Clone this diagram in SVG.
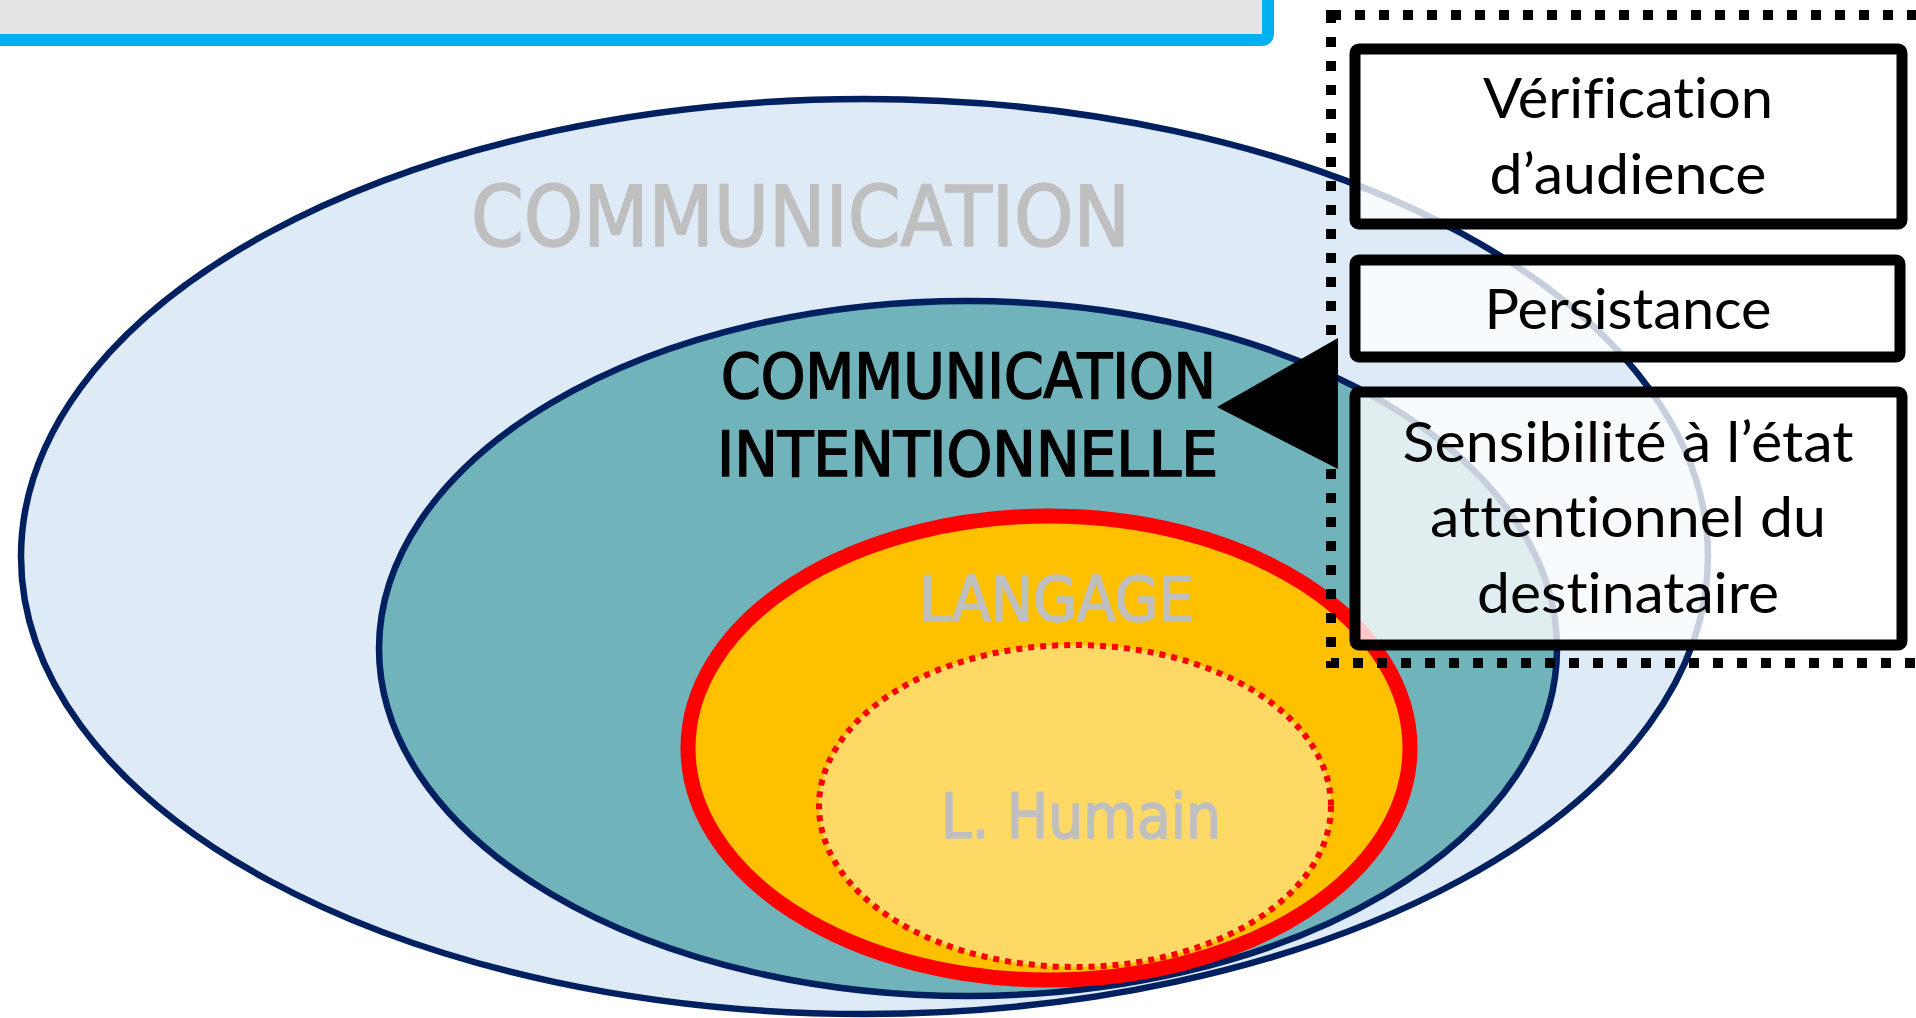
<svg xmlns="http://www.w3.org/2000/svg" width="1916" height="1018" viewBox="0 0 1916 1018">
<style>
.din{font-family:"DejaVu Sans Condensed","DejaVu Sans",sans-serif;font-stretch:condensed;stroke-width:1.6;}
.gray{fill:#bfbfbf;stroke:#bfbfbf;}
.blk{fill:#000000;stroke:#000000;}
.box{fill:#ffffff;fill-opacity:0.78;stroke:#000000;stroke-width:11;}
.bt{font-family:Lato,"Open Sans",sans-serif;font-size:57px;fill:#000000;text-anchor:middle;font-variant-ligatures:none;font-feature-settings:"liga" 0,"dlig" 0;}
.navy{stroke:#002060;stroke-width:6.5;}
</style>
<rect width="1916" height="1018" fill="#ffffff"/>
<g id="banner">
<rect x="-20" y="-20" width="1288" height="60" rx="6" fill="#e4e4e4" stroke="#00b0f0" stroke-width="12"/>
</g>
<g id="communication">
<ellipse cx="864.5" cy="556.5" rx="843.5" ry="457.5" fill="#deeaf6" class="navy"/>
<text class="din gray" x="471" y="246" font-size="84" textLength="659" lengthAdjust="spacingAndGlyphs">COMMUNICATION</text>
</g>
<g id="communication-intentionnelle">
<ellipse cx="968" cy="648.5" rx="589" ry="347.5" fill="#71b3bb" class="navy"/>
<text class="din blk" x="721" y="398" font-size="62" textLength="495" lengthAdjust="spacingAndGlyphs">COMMUNICATION</text>
<text class="din blk" x="717" y="476" font-size="62" textLength="501" lengthAdjust="spacingAndGlyphs">INTENTIONNELLE</text>
</g>
<g id="langage">
<ellipse cx="1049" cy="748" rx="361" ry="232" fill="#ffc000" stroke="#ff0000" stroke-width="15"/>
<text class="din gray" x="919" y="621" font-size="62" textLength="275" lengthAdjust="spacingAndGlyphs">LANGAGE</text>
</g>
<g id="langage-humain">
<ellipse cx="1075" cy="806" rx="256" ry="161" fill="#ffd966" stroke="#ff0000" stroke-width="6" stroke-dasharray="6 6"/>
<text class="din gray" x="941" y="838" font-size="62" textLength="280" lengthAdjust="spacingAndGlyphs">L. Humain</text>
</g>
<g id="criteria-group">
<rect x="1331" y="15" width="700" height="648" fill="none" stroke="#000000" stroke-width="10" stroke-dasharray="10 14"/>
</g>
<g id="box-verification">
<rect class="box" x="1355" y="49" width="547" height="175" rx="4"/>
<text class="bt" x="1628" y="118" textLength="290" lengthAdjust="spacingAndGlyphs">Vérification</text>
<text class="bt" x="1628" y="194" textLength="277" lengthAdjust="spacingAndGlyphs">d’audience</text>
</g>
<g id="box-persistance">
<rect class="box" x="1355" y="260" width="545" height="97" rx="4"/>
<text class="bt" x="1628" y="329" textLength="287" lengthAdjust="spacingAndGlyphs">Persistance</text>
</g>
<g id="box-sensibilite">
<rect class="box" x="1355" y="392" width="547" height="253" rx="4"/>
<text class="bt" x="1628" y="462" textLength="451" lengthAdjust="spacingAndGlyphs">Sensibilité à l’état</text>
<text class="bt" x="1628" y="537" textLength="396" lengthAdjust="spacingAndGlyphs">attentionnel du</text>
<text class="bt" x="1628" y="613" textLength="302" lengthAdjust="spacingAndGlyphs">destinataire</text>
</g>
<g id="connectors">
<path d="M1338 338 L1217 407 L1338 469 Z" fill="#000000"/>
</g>
</svg>
